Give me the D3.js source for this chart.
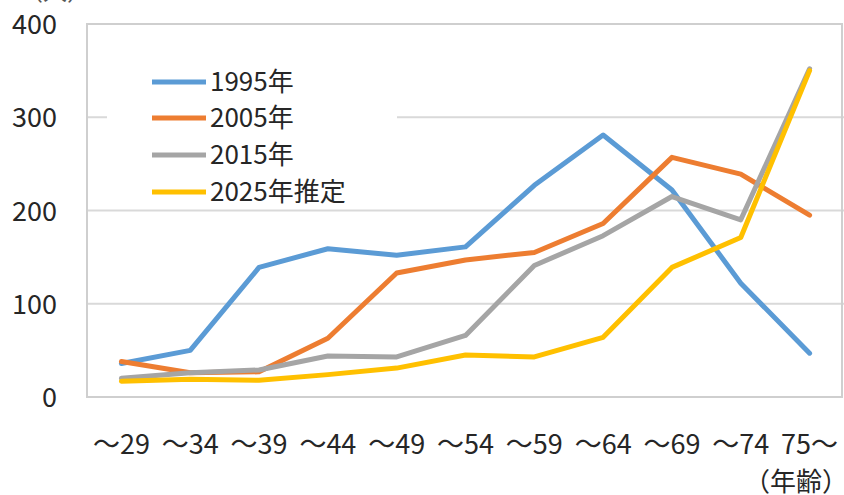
<!DOCTYPE html>
<html>
<head>
<meta charset="utf-8">
<script src="https://cdn.jsdelivr.net/npm/d3@7"></script>
<style>
  html, body { margin: 0; padding: 0; background: #fff; }
  svg { display: block; font-family: "Noto Sans CJK JP", "Noto Sans", sans-serif; }
</style>
</head>
<body>
<svg id="chart" width="844" height="495"></svg>
<script>
// Age groups (x axis)
const categories = ["～29", "～34", "～39", "～44", "～49", "～54", "～59", "～64", "～69", "～74", "75～"];

// Number of people per age group
const s1995 = [36, 50, 139, 159, 152, 161, 227, 281, 222, 122, 47];
const s2005 = [38, 26, 27, 63, 133, 147, 155, 186, 257, 239, 195];
const s2015 = [20, 26, 29, 44, 43, 66, 141, 173, 215, 190, 352];
const s2025 = [17, 19, 18, 24, 31, 45, 43, 64, 139, 171, 350];

const seriesNames = ["1995年", "2005年", "2015年", "2025年推定"];
const seriesColors = ["#5B9BD5", "#ED7D31", "#A5A5A5", "#FFC000"];
const yTicks = [0, 100, 200, 300, 400];

const series = [s1995, s2005, s2015, s2025].map((values, i) => ({
  name: seriesNames[i], color: seriesColors[i], values
}));

const svg = d3.select("#chart");
const plot = { left: 87, right: 844, top: 24, bottom: 397 };

const x = d3.scaleBand().domain(categories).range([plot.left, plot.right]).padding(0);
const y = d3.scaleLinear().domain([0, 400]).range([plot.bottom, plot.top]);
const cx = d => x(d) + x.bandwidth() / 2;

// Unit label, partly above the top edge
svg.append("text")
  .attr("x", 55).attr("y", 0)
  .attr("text-anchor", "middle")
  .attr("font-size", 24).attr("fill", "#555")
  .text("（人）");

// Horizontal gridlines
svg.append("g").selectAll("line")
  .data(yTicks.filter(t => t > 0 && t < 400))
  .join("line")
  .attr("x1", plot.left).attr("x2", plot.right)
  .attr("y1", d => y(d)).attr("y2", d => y(d))
  .attr("stroke", "#d9d9d9").attr("stroke-width", 2);

// Plot area frame
svg.append("rect")
  .attr("x", plot.left).attr("y", plot.top)
  .attr("width", plot.right - plot.left - 2).attr("height", plot.bottom - plot.top)
  .attr("fill", "none").attr("stroke", "#cfcfcf").attr("stroke-width", 2);

// Y axis labels
const yAxis = svg.append("g")
  .attr("transform", `translate(${plot.left},0)`)
  .call(d3.axisLeft(y).tickValues(yTicks).tickSize(0).tickPadding(0));
yAxis.select(".domain").remove();
yAxis.selectAll("text")
  .attr("x", -30).attr("dy", "0.36em")
  .attr("text-anchor", "end")
  .attr("font-size", 27).attr("fill", "#262626")
  .style("font-family", "'Noto Sans CJK JP', sans-serif");

// X axis labels
const xAxis = svg.append("g")
  .attr("transform", `translate(0,${plot.bottom})`)
  .call(d3.axisBottom(x).tickSize(0).tickPadding(0));
xAxis.select(".domain").remove();
xAxis.selectAll("text")
  .attr("y", 47).attr("dy", "0.36em")
  .attr("font-size", 27).attr("fill", "#262626")
  .style("font-family", "'Noto Sans CJK JP', sans-serif");

// Axis title for ages
svg.append("text")
  .attr("x", 796).attr("y", 482).attr("dy", "0.36em")
  .attr("text-anchor", "middle")
  .attr("font-size", 26).attr("fill", "#262626")
  .text("（年齢）");

// Series lines
const line = d3.line()
  .x((d, i) => cx(categories[i]))
  .y(d => y(d));

svg.append("g").selectAll("path")
  .data(series)
  .join("path")
  .attr("d", d => line(d.values))
  .attr("fill", "none")
  .attr("stroke", d => d.color)
  .attr("stroke-width", 5)
  .attr("stroke-linejoin", "round")
  .attr("stroke-linecap", "round");

// Legend with white background
const legend = svg.append("g");
legend.append("rect")
  .attr("x", 107).attr("y", 55).attr("width", 290).attr("height", 152)
  .attr("fill", "#fff");
const rowY = [82, 118, 155, 192];
const items = legend.selectAll("g.item")
  .data(series)
  .join("g").attr("class", "item")
  .attr("transform", (d, i) => `translate(0,${rowY[i]})`);
items.append("line")
  .attr("x1", 152).attr("x2", 206)
  .attr("stroke", d => d.color).attr("stroke-width", 5);
items.append("text")
  .attr("x", 210).attr("dy", "0.36em")
  .attr("font-size", 26).attr("fill", "#262626")
  .text(d => d.name);
</script>
</body>
</html>
